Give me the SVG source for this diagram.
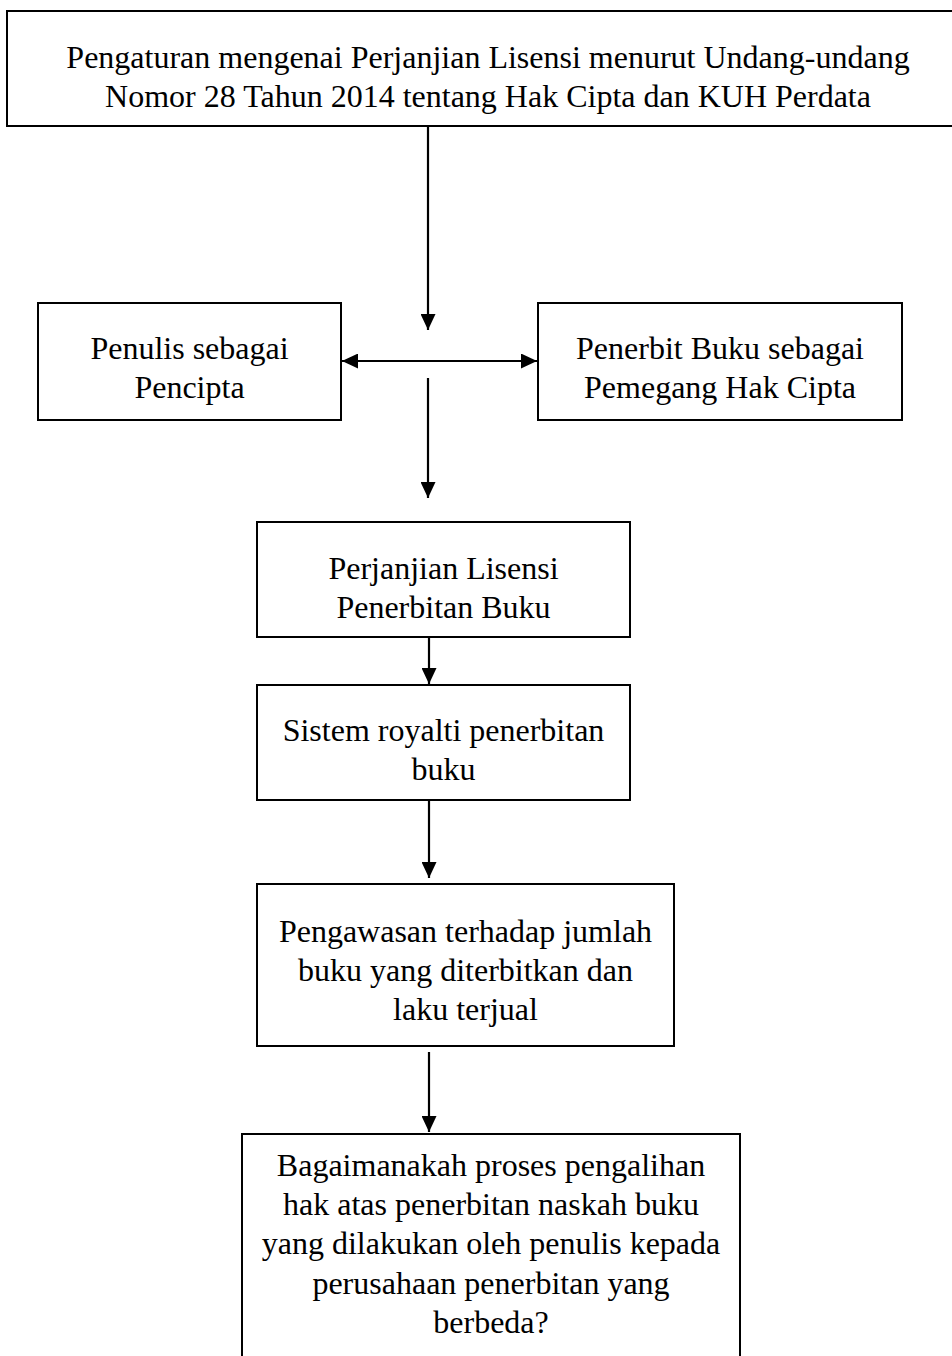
<svg xmlns="http://www.w3.org/2000/svg" width="952" height="1356" viewBox="0 0 952 1356">
<defs>
<style>
.box{fill:#fff;stroke:#000;stroke-width:2}
.t{font-family:"Liberation Serif","Times New Roman",serif;font-size:32px;fill:#000;text-anchor:middle}
.c{stroke:#000;stroke-width:2.2;fill:none}
</style>
<marker id="ah" viewBox="0 0 16 15" refX="16" refY="7.5" markerWidth="16" markerHeight="15" markerUnits="userSpaceOnUse" orient="auto-start-reverse">
<path d="M0,0 L16,7.5 L0,15 z" fill="#000"/>
</marker>
</defs>
<rect width="952" height="1356" fill="#fff"/>
<g id="connectors">
<line class="c" x1="428" y1="126" x2="428" y2="330" marker-end="url(#ah)"/>
<line class="c" x1="342" y1="361" x2="537" y2="361" marker-start="url(#ah)" marker-end="url(#ah)"/>
<line class="c" x1="428" y1="378" x2="428" y2="498" marker-end="url(#ah)"/>
<line class="c" x1="429" y1="637" x2="429" y2="684" marker-end="url(#ah)"/>
<line class="c" x1="429" y1="800" x2="429" y2="878" marker-end="url(#ah)"/>
<line class="c" x1="429" y1="1052" x2="429" y2="1132" marker-end="url(#ah)"/>
</g>
<g id="n1">
<rect class="box" x="7" y="11" width="962" height="115"/>
<text class="t" x="488" y="68">Pengaturan mengenai Perjanjian Lisensi menurut Undang-undang</text>
<text class="t" x="488" y="107">Nomor 28 Tahun 2014 tentang Hak Cipta dan KUH Perdata</text>
</g>
<g id="n2">
<rect class="box" x="38" y="303" width="303" height="117"/>
<text class="t" x="189.5" y="359">Penulis sebagai</text>
<text class="t" x="189.5" y="398">Pencipta</text>
</g>
<g id="n3">
<rect class="box" x="538" y="303" width="364" height="117"/>
<text class="t" x="720" y="359">Penerbit Buku sebagai</text>
<text class="t" x="720" y="398">Pemegang Hak Cipta</text>
</g>
<g id="n4">
<rect class="box" x="257" y="522" width="373" height="115"/>
<text class="t" x="443.5" y="579">Perjanjian Lisensi</text>
<text class="t" x="443.5" y="618">Penerbitan Buku</text>
</g>
<g id="n5">
<rect class="box" x="257" y="685" width="373" height="115"/>
<text class="t" x="443.5" y="741">Sistem royalti penerbitan</text>
<text class="t" x="443.5" y="780">buku</text>
</g>
<g id="n6">
<rect class="box" x="257" y="884" width="417" height="162"/>
<text class="t" x="465.5" y="942">Pengawasan terhadap jumlah</text>
<text class="t" x="465.5" y="981">buku yang diterbitkan dan</text>
<text class="t" x="465.5" y="1020">laku terjual</text>
</g>
<g id="n7">
<rect class="box" x="242" y="1134" width="498" height="260"/>
<text class="t" x="491" y="1176">Bagaimanakah proses pengalihan</text>
<text class="t" x="491" y="1215">hak atas penerbitan naskah buku</text>
<text class="t" x="491" y="1254">yang dilakukan oleh penulis kepada</text>
<text class="t" x="491" y="1294">perusahaan penerbitan yang</text>
<text class="t" x="491" y="1333">berbeda?</text>
</g>
</svg>
